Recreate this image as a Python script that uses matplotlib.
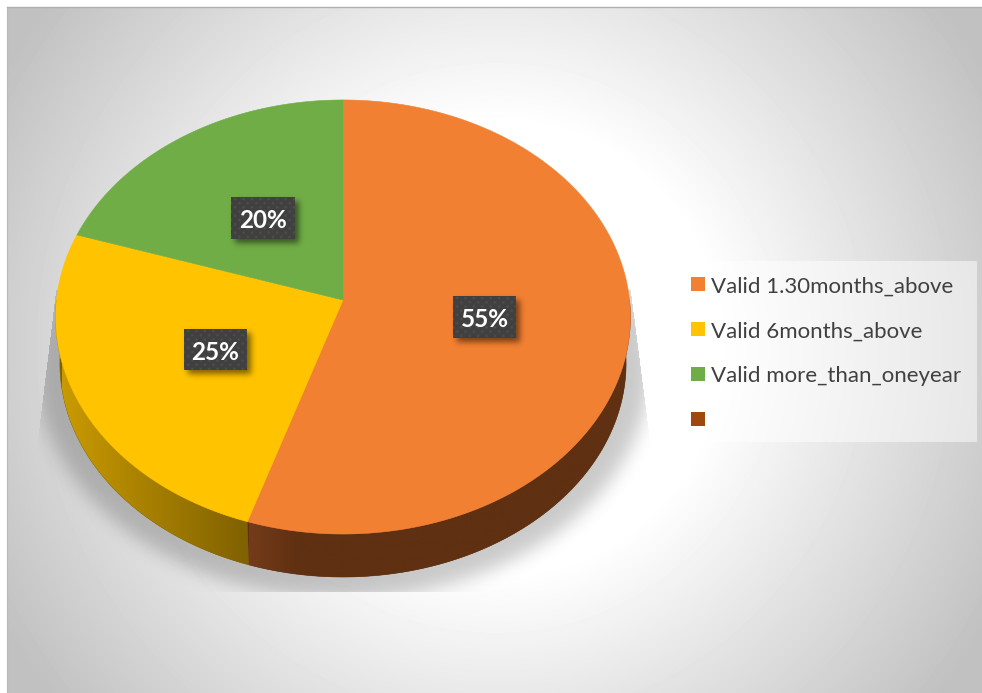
import numpy as np
import matplotlib
matplotlib.use("Agg")
import matplotlib.pyplot as plt
from matplotlib.path import Path
from matplotlib.patches import PathPatch, Rectangle
from matplotlib.colors import LinearSegmentedColormap

# Chart data
categories = ["Valid 1.30months_above", "Valid 6months_above", "Valid more_than_oneyear", ""]
values = [55, 25, 20, 0]
colors = ["#F28032", "#FFC300", "#70AD47", "#9E480E"]

W, H = 982, 693
fig = plt.figure(figsize=(W / 100, H / 100), dpi=100, facecolor="white")
ax = fig.add_axes([0, 0, 1, 1])
ax.set_axis_off()

yy, xx = np.mgrid[0:H, 0:W] + 0.5


def blur(a, sigma):
    fy = np.fft.fftfreq(a.shape[0])[:, None]
    fx = np.fft.rfftfreq(a.shape[1])[None, :]
    g = np.exp(-2 * (np.pi * sigma) ** 2 * (fx ** 2 + fy ** 2))
    return np.fft.irfft2(np.fft.rfft2(a) * g, s=a.shape)


# Backdrop: radial fade from white in the middle to grey in the corners
r = np.hypot(xx - 495, yy - 348)
bg = np.clip(1.0 - 0.00072 * np.clip(r - 225, 0, None), 0.755, 1)
bg[(xx < 7) | (yy < 7)] = 1.0
ax.imshow(bg, cmap="gray", vmin=0, vmax=1, extent=(0, W, H, 0), zorder=1,
          interpolation="nearest", aspect="auto")
ax.plot([7, 7], [7, H], color="#b8b8b8", lw=0.8, zorder=2)
ax.plot([7, W], [7, 7], color="#b0b0b0", lw=1.0, zorder=2)

# Pie geometry: circle projected with a slight perspective
CX, CY, A, B, K = 343.0, 300.0, 286.5, 215.7, 0.0783
DROP, SHRINK = 46.5, 0.985


def top(theta):
    u, v = np.sin(theta), np.cos(theta)
    w = 1 + K * v
    return CX + A * u / w, CY - B * v / w


def bottom(theta):
    x, y = top(theta)
    return CX + SHRINK * (x - CX), CY + SHRINK * (y - CY) + DROP


# Ground shadow, cut off by a trapezoid beneath the pie
t = np.linspace(0, 2 * np.pi, 720)
sx, sy = bottom(t)
shadow_path = Path(np.c_[CX + 1.085 * (sx - CX), sy.mean() + 1.085 * (sy - sy.mean()) + 2])
inside = shadow_path.contains_points(np.c_[xx.ravel(), yy.ravel()]).reshape(xx.shape).astype(float)
soft = blur(inside, 9)
left_edge = 55 - (yy - 300) * 17 / 140
right_edge = 632 + (yy - 300) * 18 / 140
cut = (yy > 290) & (yy < 592) & (xx > left_edge) & (xx < right_edge)
shadow = np.zeros((H, W, 4))
shadow[..., 3] = 0.21 * soft * cut
ax.imshow(shadow, extent=(0, W, H, 0), zorder=3, interpolation="nearest", aspect="auto")

fractions = np.array(values, dtype=float) / sum(values)
edges = np.r_[0, np.cumsum(fractions)] * 2 * np.pi
FRONT = (np.radians(90), np.radians(270))

# Side wall of each front slice, shaded with a horizontal ramp
wall_ramps = {
    1: (["#C99A00", "#7F6000"], (62, 251), [0, 1]),
    0: (["#743B1A", "#5F3011", "#5F3011"], (249, 627), [0, 0.13, 1]),
}
for i, (c_list, (x0, x1), stops) in wall_ramps.items():
    a, b = max(edges[i], FRONT[0]), min(edges[i + 1], FRONT[1])
    th = np.linspace(a, b, 240)
    tx, ty = top(th)
    bx, by = bottom(th)
    poly = np.r_[np.c_[tx, ty], np.c_[bx, by][::-1]]
    patch = PathPatch(Path(poly), fc=c_list[-1], ec=c_list[-1], lw=0.4, zorder=4)
    ax.add_patch(patch)
    clip = PathPatch(Path(poly), fc="none", ec="none", transform=ax.transData)
    ax.add_patch(clip)
    cmap = LinearSegmentedColormap.from_list("wall", list(zip(stops, c_list)))
    ramp = np.linspace(0, 1, 256)[None, :]
    im = ax.imshow(ramp, cmap=cmap, extent=(x0, x1, 600, 300), zorder=4.1, aspect="auto",
                   interpolation="bilinear")
    im.set_clip_path(clip)

# Top face
for i in range(3):
    th = np.linspace(edges[i], edges[i + 1], 300)
    x, y = top(th)
    poly = np.r_[[[CX, CY]], np.c_[x, y], [[CX, CY]]]
    ax.add_patch(PathPatch(Path(poly), fc=colors[i], ec=colors[i], lw=0.4, zorder=5))

# Percentage labels on dotted dark boxes
label_boxes = [(453, 296, 516, 338), (184, 329, 247, 370), (231, 197, 295, 239)]
for i, (x0, y0, x1, y1) in enumerate(label_boxes):
    bm = ((xx > x0 + 4) & (xx < x1 + 4) & (yy > y0 + 4) & (yy < y1 + 4)).astype(float)
    sh = np.zeros((H, W, 4))
    sh[..., 3] = 0.5 * blur(bm, 3)
    ax.imshow(sh, extent=(0, W, H, 0), zorder=6, interpolation="nearest", aspect="auto")

    px, py = np.meshgrid(np.arange(x1 - x0) + 0.5, np.arange(y1 - y0) + 0.5)
    rows = np.floor(py / 4.2)
    shift = (rows % 2) * 4.2
    dots = np.exp(-(((px + shift) % 8.4 - 4.2) ** 2 + (py % 4.2 - 2.1) ** 2) / 1.6)
    tex = 0.25 + 0.07 * dots
    ax.imshow(tex, cmap="gray", vmin=0, vmax=1, extent=(x0, x1, y1, y0), zorder=7,
              interpolation="bilinear", aspect="auto")
    ax.text((x0 + x1) / 2, (y0 + y1) / 2 + 0.5, f"{values[i]}%", color="white",
            family="Lato", weight="bold", fontsize=17.5, ha="center", va="center_baseline", zorder=8)

# Legend
ax.add_patch(Rectangle((679, 261), 298, 181, fc="white", ec="none", alpha=0.5, zorder=6))
for i, (name, col) in enumerate(zip(categories, colors)):
    y = 284 + i * 45
    ax.add_patch(Rectangle((691, y - 7), 14, 14, fc=col, ec="none", zorder=7))
    ax.text(711, y + 0.5, name, color="#404040", family="Lato", fontsize=16, ha="left",
            va="center_baseline", zorder=7)

ax.set_xlim(0, W)
ax.set_ylim(H, 0)
fig.savefig("out.png", dpi=100, facecolor="white")
